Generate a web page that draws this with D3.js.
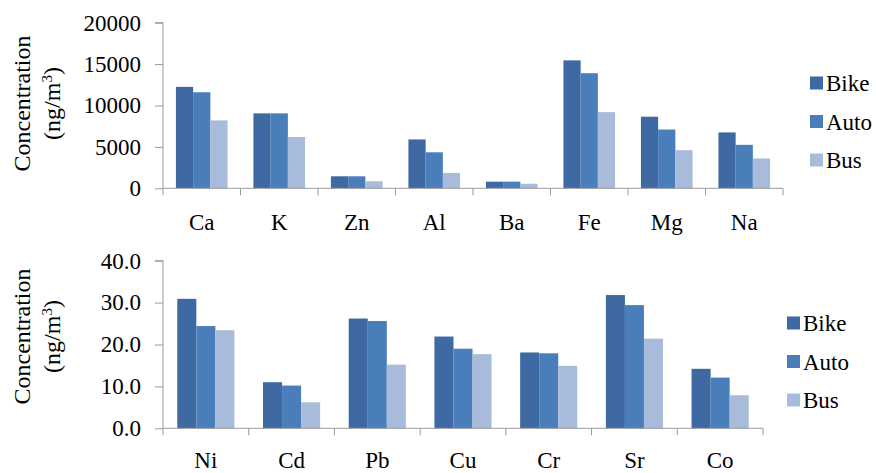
<!DOCTYPE html>
<html><head><meta charset="utf-8">
<script src="https://cdn.jsdelivr.net/npm/d3@7"></script>
<style>
body{margin:0;background:#fff;}
</style></head>
<body>
<svg id="chart" width="876" height="473"></svg>
<script>
const series = ["Bike","Auto","Bus"];
const colors = ["#3e69a2","#4a7ebb","#a8bbda"];

const topCategories = ["Ca","K","Zn","Al","Ba","Fe","Mg","Na"];
const topBike = [12250, 9050, 1450, 5900, 800, 15450, 8650, 6750];
const topAuto = [11600, 9050, 1450, 4350, 800, 13900, 7100, 5250];
const topBus  = [8200, 6200, 850, 1850, 550, 9200, 4600, 3600];
const topTicks = [0, 5000, 10000, 15000, 20000];

const botCategories = ["Ni","Cd","Pb","Cu","Cr","Sr","Co"];
const botBike = [30.9, 11.0, 26.2, 21.9, 18.1, 31.8, 14.2];
const botAuto = [24.4, 10.2, 25.6, 19.0, 17.9, 29.4, 12.1];
const botBus  = [23.4, 6.2, 15.2, 17.7, 14.9, 21.4, 7.9];
const botTicks = [0, 10, 20, 30, 40];

const FONT = '"Liberation Serif"';
const svg = d3.select("#chart");

function drawPanel(cfg){
  const g = svg.append("g");
  const x0 = d3.scaleBand().domain(cfg.categories).range([cfg.x0, cfg.x1]).padding(0);
  const bw = x0.bandwidth();
  const x1 = d3.scaleBand().domain(series).range([bw/6, bw*5/6]).padding(0);
  const y = d3.scaleLinear().domain([0, cfg.max]).range([cfg.yb, cfg.yt]);
  const vals = [cfg.bike, cfg.auto, cfg.bus];

  series.forEach((s, si) => {
    g.selectAll(null).data(cfg.categories).enter().append("rect")
      .attr("x", (c) => x0(c) + x1(s))
      .attr("y", (c, i) => y(vals[si][i]))
      .attr("width", x1.bandwidth())
      .attr("height", (c, i) => y(0) - y(vals[si][i]))
      .attr("fill", colors[si]);
  });

  const ya = d3.axisLeft(y).tickValues(cfg.ticks).tickSize(8).tickPadding(14)
    .tickFormat(cfg.fmt);
  const yg = g.append("g").attr("transform", `translate(${cfg.x0},0)`).call(ya);
  yg.select(".domain").attr("stroke", "#9a9a9a").attr("d", `M-8,${cfg.yt}H0V${cfg.yb}`);
  yg.selectAll(".tick line").attr("stroke", "#9a9a9a");
  yg.selectAll("text").attr("fill", "#000").style("font-family", FONT).style("font-size", "23px");

  const xg = g.append("g").attr("transform", `translate(0,${cfg.yb})`);
  xg.append("line").attr("x1", cfg.x0).attr("x2", cfg.x1).attr("y1", 0).attr("y2", 0).attr("stroke", "#9a9a9a");
  const bounds = cfg.categories.map(c => x0(c)).concat([cfg.x1]);
  xg.selectAll(null).data(bounds).enter().append("line")
    .attr("x1", d => d).attr("x2", d => d).attr("y1", 0).attr("y2", 7).attr("stroke", "#9a9a9a");
  xg.selectAll(null).data(cfg.categories).enter().append("text")
    .attr("x", c => x0(c) + bw/2).attr("y", cfg.labOff)
    .attr("text-anchor", "middle").style("font-family", FONT).style("font-size", "23px").text(c => c);

  const yc = (cfg.yt + cfg.yb) / 2 + cfg.tOff;
  g.append("text").attr("transform", `translate(30,${yc}) rotate(-90)`)
    .attr("text-anchor", "middle").style("font-family", FONT).style("font-size", "24px").text("Concentration");
  const t2 = g.append("text").attr("transform", `translate(60,${yc}) rotate(-90)`)
    .attr("text-anchor", "middle").style("font-family", FONT).style("font-size", "24px");
  t2.append("tspan").text("(ng/m");
  t2.append("tspan").attr("dy", -8).style("font-size", "15px").text("3");
  t2.append("tspan").attr("dy", 8).text(")");

  series.forEach((s, si) => {
    const cy = cfg.legY + si * 38.5;
    g.append("rect").attr("x", cfg.legX).attr("y", cy - 6.5).attr("width", 13).attr("height", 13).attr("fill", colors[si]);
    g.append("text").attr("x", cfg.legX + 16).attr("y", cy + 8)
      .style("font-family", FONT).style("font-size", "23px").text(s);
  });
}

drawPanel({categories: topCategories, bike: topBike, auto: topAuto, bus: topBus,
  ticks: topTicks, max: 20000, fmt: d3.format("d"),
  x0: 163, x1: 783, yt: 22.7, yb: 188.3, tOff: -2, legX: 810, legY: 83, labOff: 42});
drawPanel({categories: botCategories, bike: botBike, auto: botAuto, bus: botBus,
  ticks: botTicks, max: 40, fmt: d3.format(".1f"),
  x0: 163, x1: 763, yt: 260.7, yb: 428.3, tOff: -8, legX: 787, legY: 323, labOff: 40});
</script>
</body></html>
